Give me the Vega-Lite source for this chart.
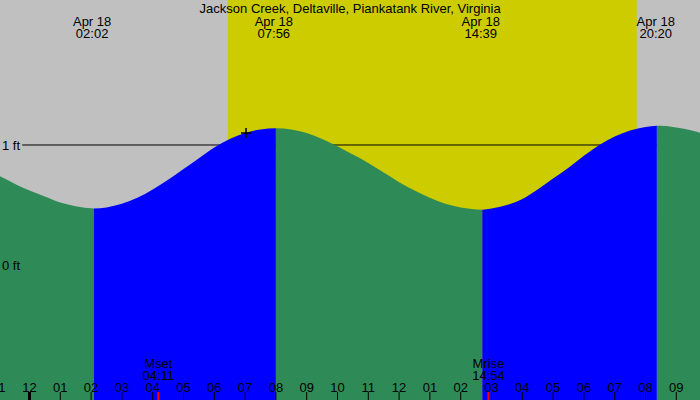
{
  "$schema": "https://vega.github.io/schema/vega-lite/v6.json",
  "width": 700,
  "height": 400,
  "autosize": {"type": "fit", "contains": "padding"},
  "padding": 0,
  "background": "#C0C0C0",
  "config": {"view": {"stroke": null}, "text": {"font": "Liberation Sans", "fontSize": 13, "color": "#000000", "baseline": "middle", "dy": 2}},
  "datasets": {
    "periods": [
      {"start": -1.0, "end": 6.44, "kind": "night"},
      {"start": 6.44, "end": 19.72, "kind": "day"},
      {"start": 19.72, "end": 21.8, "kind": "night"}
    ],
    "tide": [
      {"t": -1.0, "ft": 0.745, "seg": "A", "dir": "falling"},
      {"t": -0.5, "ft": 0.68, "seg": "A", "dir": "falling"},
      {"t": 0.0, "ft": 0.62, "seg": "A", "dir": "falling"},
      {"t": 0.5, "ft": 0.57, "seg": "A", "dir": "falling"},
      {"t": 1.0, "ft": 0.52, "seg": "A", "dir": "falling"},
      {"t": 1.5, "ft": 0.49, "seg": "A", "dir": "falling"},
      {"t": 2.09, "ft": 0.47, "seg": "A", "dir": "falling"},
      {"t": 2.09, "ft": 0.47, "seg": "B", "dir": "rising"},
      {"t": 2.5, "ft": 0.48, "seg": "B", "dir": "rising"},
      {"t": 3.0, "ft": 0.51, "seg": "B", "dir": "rising"},
      {"t": 3.5, "ft": 0.56, "seg": "B", "dir": "rising"},
      {"t": 4.0, "ft": 0.63, "seg": "B", "dir": "rising"},
      {"t": 4.5, "ft": 0.71, "seg": "B", "dir": "rising"},
      {"t": 5.0, "ft": 0.80, "seg": "B", "dir": "rising"},
      {"t": 5.5, "ft": 0.89, "seg": "B", "dir": "rising"},
      {"t": 6.0, "ft": 0.98, "seg": "B", "dir": "rising"},
      {"t": 6.5, "ft": 1.05, "seg": "B", "dir": "rising"},
      {"t": 7.0, "ft": 1.10, "seg": "B", "dir": "rising"},
      {"t": 7.5, "ft": 1.13, "seg": "B", "dir": "rising"},
      {"t": 8.0, "ft": 1.14, "seg": "B", "dir": "rising"},
      {"t": 8.0, "ft": 1.14, "seg": "C", "dir": "falling"},
      {"t": 8.5, "ft": 1.13, "seg": "C", "dir": "falling"},
      {"t": 9.0, "ft": 1.10, "seg": "C", "dir": "falling"},
      {"t": 9.5, "ft": 1.05, "seg": "C", "dir": "falling"},
      {"t": 10.0, "ft": 0.99, "seg": "C", "dir": "falling"},
      {"t": 10.5, "ft": 0.92, "seg": "C", "dir": "falling"},
      {"t": 11.0, "ft": 0.85, "seg": "C", "dir": "falling"},
      {"t": 11.5, "ft": 0.77, "seg": "C", "dir": "falling"},
      {"t": 12.0, "ft": 0.69, "seg": "C", "dir": "falling"},
      {"t": 12.5, "ft": 0.62, "seg": "C", "dir": "falling"},
      {"t": 13.0, "ft": 0.56, "seg": "C", "dir": "falling"},
      {"t": 13.5, "ft": 0.51, "seg": "C", "dir": "falling"},
      {"t": 14.0, "ft": 0.48, "seg": "C", "dir": "falling"},
      {"t": 14.7, "ft": 0.46, "seg": "C", "dir": "falling"},
      {"t": 14.7, "ft": 0.46, "seg": "D", "dir": "rising"},
      {"t": 15.0, "ft": 0.47, "seg": "D", "dir": "rising"},
      {"t": 15.5, "ft": 0.50, "seg": "D", "dir": "rising"},
      {"t": 16.0, "ft": 0.55, "seg": "D", "dir": "rising"},
      {"t": 16.5, "ft": 0.63, "seg": "D", "dir": "rising"},
      {"t": 17.0, "ft": 0.72, "seg": "D", "dir": "rising"},
      {"t": 17.5, "ft": 0.81, "seg": "D", "dir": "rising"},
      {"t": 18.0, "ft": 0.91, "seg": "D", "dir": "rising"},
      {"t": 18.5, "ft": 1.00, "seg": "D", "dir": "rising"},
      {"t": 19.0, "ft": 1.07, "seg": "D", "dir": "rising"},
      {"t": 19.5, "ft": 1.12, "seg": "D", "dir": "rising"},
      {"t": 20.0, "ft": 1.15, "seg": "D", "dir": "rising"},
      {"t": 20.37, "ft": 1.16, "seg": "D", "dir": "rising"},
      {"t": 20.37, "ft": 1.16, "seg": "E", "dir": "falling"},
      {"t": 20.5, "ft": 1.16, "seg": "E", "dir": "falling"},
      {"t": 21.0, "ft": 1.145, "seg": "E", "dir": "falling"},
      {"t": 21.5, "ft": 1.12, "seg": "E", "dir": "falling"},
      {"t": 21.8, "ft": 1.10, "seg": "E", "dir": "falling"}
    ],
    "events": [
      {"t": 2.033, "date": "Apr 18", "time": "02:02"},
      {"t": 7.933, "date": "Apr 18", "time": "07:56"},
      {"t": 14.65, "date": "Apr 18", "time": "14:39"},
      {"t": 20.333, "date": "Apr 18", "time": "20:20"}
    ],
    "levels": [
      {"label": "1 ft", "ft": 1},
      {"label": "0 ft", "ft": 0}
    ],
    "moon": [
      {"t": 4.183, "name": "Mset", "time": "04:11"},
      {"t": 14.9, "name": "Mrise", "time": "14:54"}
    ],
    "hours": [
      {"h": -1, "lab": "11"}, {"h": 0, "lab": "12"}, {"h": 1, "lab": "01"}, {"h": 2, "lab": "02"},
      {"h": 3, "lab": "03"}, {"h": 4, "lab": "04"}, {"h": 5, "lab": "05"}, {"h": 6, "lab": "06"},
      {"h": 7, "lab": "07"}, {"h": 8, "lab": "08"}, {"h": 9, "lab": "09"}, {"h": 10, "lab": "10"},
      {"h": 11, "lab": "11"}, {"h": 12, "lab": "12"}, {"h": 13, "lab": "01"}, {"h": 14, "lab": "02"},
      {"h": 15, "lab": "03"}, {"h": 16, "lab": "04"}, {"h": 17, "lab": "05"}, {"h": 18, "lab": "06"},
      {"h": 19, "lab": "07"}, {"h": 20, "lab": "08"}, {"h": 21, "lab": "09"}
    ],
    "now": [{"t": 7.03, "ft": 1.10}],
    "title": [{"t": 10.41, "label": "Jackson Creek, Deltaville, Piankatank River, Virginia"}]
  },
  "layer": [
    {
      "data": {"name": "periods"},
      "mark": {"type": "rect", "clip": true},
      "encoding": {
        "x": {"field": "start", "type": "quantitative", "scale": {"domain": [-0.9578, 21.7695], "nice": false, "zero": false}, "axis": null},
        "x2": {"field": "end"},
        "color": {"field": "kind", "type": "nominal", "scale": {"domain": ["night", "day", "falling", "rising"], "range": ["#C0C0C0", "#CCCC00", "#2E8B57", "#0000FF"]}, "legend": null}
      }
    },
    {
      "data": {"values": [{}]},
      "mark": {"type": "rule", "color": "#000000", "strokeWidth": 1, "clip": true},
      "encoding": {
        "x": {"datum": -0.24, "type": "quantitative"},
        "x2": {"datum": 21.77},
        "y": {"datum": 1, "type": "quantitative", "scale": {"domain": [-1.125, 2.2083], "nice": false, "zero": false}, "axis": null}
      }
    },
    {
      "data": {"name": "tide"},
      "mark": {"type": "area", "interpolate": "monotone", "clip": true},
      "encoding": {
        "x": {"field": "t", "type": "quantitative"},
        "y": {"field": "ft", "type": "quantitative", "stack": null},
        "y2": {"datum": -1.13},
        "detail": {"field": "seg", "type": "nominal"},
        "color": {"field": "dir", "type": "nominal", "legend": null}
      }
    },
    {
      "data": {"name": "levels"},
      "mark": {"type": "text", "align": "left", "dx": 2, "dy": 1},
      "encoding": {
        "x": {"datum": -0.9578, "type": "quantitative"},
        "y": {"field": "ft", "type": "quantitative"},
        "text": {"field": "label"}
      }
    },
    {
      "data": {"name": "title"},
      "mark": {"type": "text", "align": "center"},
      "encoding": {
        "x": {"field": "t", "type": "quantitative"},
        "y": {"datum": 2.15, "type": "quantitative"},
        "text": {"field": "label"}
      }
    },
    {
      "data": {"name": "events"},
      "mark": {"type": "text", "align": "center"},
      "encoding": {
        "x": {"field": "t", "type": "quantitative"},
        "y": {"datum": 2.042, "type": "quantitative"},
        "text": {"field": "date"}
      }
    },
    {
      "data": {"name": "events"},
      "mark": {"type": "text", "align": "center"},
      "encoding": {
        "x": {"field": "t", "type": "quantitative"},
        "y": {"datum": 1.945, "type": "quantitative"},
        "text": {"field": "time"}
      }
    },
    {
      "data": {"name": "now"},
      "mark": {"type": "point", "shape": "M-1,0H1M0,-1V1", "size": 100, "stroke": "#000000", "strokeWidth": 1.5, "filled": false, "opacity": 1},
      "encoding": {
        "x": {"field": "t", "type": "quantitative"},
        "y": {"field": "ft", "type": "quantitative"}
      }
    },
    {
      "data": {"name": "moon"},
      "mark": {"type": "text", "align": "center", "dy": 3},
      "encoding": {
        "x": {"field": "t", "type": "quantitative"},
        "y": {"datum": -0.8, "type": "quantitative"},
        "text": {"field": "name"}
      }
    },
    {
      "data": {"name": "moon"},
      "mark": {"type": "text", "align": "center", "dy": 3},
      "encoding": {
        "x": {"field": "t", "type": "quantitative"},
        "y": {"datum": -0.9, "type": "quantitative"},
        "text": {"field": "time"}
      }
    },
    {
      "data": {"name": "hours"},
      "transform": [{"filter": "datum.h != 0"}],
      "mark": {"type": "rule", "color": "#000000", "strokeWidth": 1, "clip": true},
      "encoding": {
        "x": {"field": "h", "type": "quantitative"},
        "y": {"datum": -1.058, "type": "quantitative"},
        "y2": {"datum": -1.125}
      }
    },
    {
      "data": {"name": "hours"},
      "transform": [{"filter": "datum.h == 0"}],
      "mark": {"type": "rule", "color": "#000000", "strokeWidth": 3, "clip": true},
      "encoding": {
        "x": {"field": "h", "type": "quantitative"},
        "y": {"datum": -1.058, "type": "quantitative"},
        "y2": {"datum": -1.125}
      }
    },
    {
      "data": {"name": "moon"},
      "mark": {"type": "rule", "color": "#FF0000", "strokeWidth": 2, "clip": true},
      "encoding": {
        "x": {"field": "t", "type": "quantitative"},
        "y": {"datum": -1.058, "type": "quantitative"},
        "y2": {"datum": -1.125}
      }
    },
    {
      "data": {"name": "hours"},
      "mark": {"type": "text", "align": "center", "clip": true, "dy": 3},
      "encoding": {
        "x": {"field": "h", "type": "quantitative"},
        "y": {"datum": -1.0, "type": "quantitative"},
        "text": {"field": "lab"}
      }
    }
  ]
}
